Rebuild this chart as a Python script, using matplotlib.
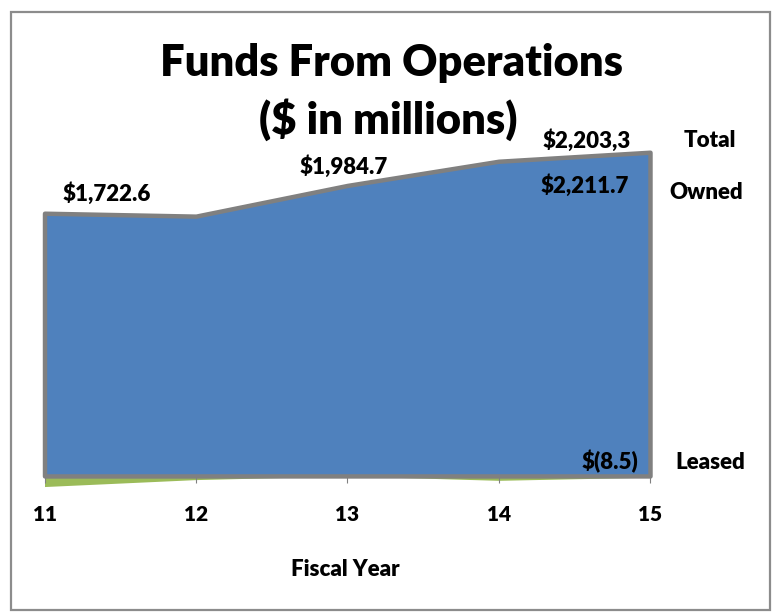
import matplotlib

matplotlib.use("Agg")
import matplotlib.pyplot as plt
from matplotlib.patches import Rectangle

# fiscal years and funds from operations ($ in millions)
years = [11, 12, 13, 14, 15]
owned = [1795.0, 1775.0, 1984.7, 2150.0, 2211.7]
leased = [-72.4, -25.0, 0.0, -30.0, -8.5]
total_labels = ["$1,722.6", None, "$1,984.7", None, "$2,203,3"]

BLUE = "#4f81bd"
GREEN = "#9bbb59"
GRAY = "#808080"
W = "heavy"

plt.rcParams["font.family"] = ["Lato", "DejaVu Sans"]
plt.rcParams["font.weight"] = W

fig = plt.figure(figsize=(7.74, 6.12), dpi=100)
fig.patches.append(Rectangle((11 / 774, 2 / 612), 759 / 774, 598 / 612,
                             transform=fig.transFigure, fill=False,
                             edgecolor="#8c8c8c", linewidth=1.6))

ax = fig.add_axes([44.5 / 774, 0.1984, 605.5 / 774, 0.574])
ax.set_xlim(11, 15)
ax.set_ylim(-100, 2300)

ax.fill_between(years, 0, leased, color=GREEN, linewidth=0, zorder=1)
ax.fill_between(years, 0, owned, facecolor=BLUE, edgecolor=GRAY,
                linewidth=3.2, zorder=2, clip_on=False)

for s in ["left", "right", "top"]:
    ax.spines[s].set_visible(False)
ax.spines["bottom"].set_position(("data", 0))
ax.spines["bottom"].set_color(GRAY)
ax.spines["bottom"].set_linewidth(1)
ax.set_yticks([])
ax.set_xticks(years)
ax.set_xticklabels([str(y) for y in years], fontsize=15, fontweight=W)
ax.tick_params(axis="x", direction="out", length=5, color=GRAY, pad=16)

ax.set_facecolor("none")

# value labels
lab = dict(fontsize=16, fontweight=W, ha="center", va="center",
           textcoords="offset pixels", annotation_clip=False)
ax.annotate(total_labels[0], (11, owned[0]), xytext=(62, 20), **lab)
ax.annotate(total_labels[2], (13, owned[2]), xytext=(-4, 19), **lab)
ax.annotate(total_labels[4], (15, owned[4]), xytext=(-63, 12), **lab)
ax.annotate(f"${owned[4]:,.1f}", (15, owned[4]), xytext=(-65, -33), **lab)
ax.annotate(f"$({-leased[4]:.1f})", (15, leased[4]), xytext=(-40, 16), **lab)

# series names on the right
ax.annotate("Total", (15, owned[4]), xytext=(60, 12), **lab)
ax.annotate("Owned", (15, owned[4]), xytext=(56, -40), **lab)
ax.annotate("Leased", (15, leased[4]), xytext=(60, 15), **lab)

fig.text(391 / 774, 1 - 63 / 612, "Funds From Operations", fontsize=31.3,
         fontweight=W, ha="center", va="center")
fig.text(388 / 774, 1 - 120 / 612, "($ in millions)", fontsize=31.3,
         fontweight=W, ha="center", va="center")
fig.text(345 / 774, 1 - 570 / 612, "Fiscal Year", fontsize=16,
         fontweight=W, ha="center", va="center")

fig.savefig("out.png", dpi=100)
